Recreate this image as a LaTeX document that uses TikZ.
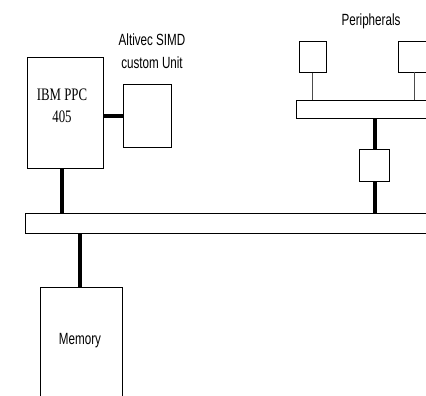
\documentclass[tikz,border=0pt]{standalone}
\usepackage{fontspec}
\setmainfont{Liberation Serif}
\newfontfamily\arialf{Liberation Sans}
\begin{document}
\begin{tikzpicture}[x=1pt,y=-1pt,
  box/.style={draw=black,line width=1.3pt,fill=white,minimum width=#1,inner sep=0pt,anchor=north west},
  thick conn/.style={line width=4pt,line cap=butt},
  thin conn/.style={draw=black!70,line width=0.9pt},
  sanslbl/.style={font=\arialf\fontsize{12}{23}\selectfont,align=center,inner sep=0pt},
  seriflbl/.style={font=\fontsize{13.5}{22}\selectfont,align=center,inner sep=0pt}]
\useasboundingbox (0,0) rectangle (426,396);
\clip (0,0) rectangle (426,396);
% boxes
\node[box=76pt,minimum height=111pt] (ppc) at (27,57) {};
\node[box=48pt,minimum height=63pt] (alt) at (123,84) {};
\node[box=415pt,minimum height=20pt] (bus) at (25,213) {};
\node[box=82pt,minimum height=125pt] (mem) at (40,287) {};
\node[box=150pt,minimum height=18pt] (bus2) at (296,100) {};
\node[box=27pt,minimum height=31pt] (p1) at (299,41) {};
\node[box=40pt,minimum height=31pt] (p2) at (398,41) {};
\node[box=30pt,minimum height=32pt] (br) at (359,149) {};
% labels
\node[seriflbl] (ppclbl) at (62,106) {\scalebox{0.95}[1.3]{IBM PPC}\\\scalebox{0.95}[1.3]{405}};
\node[sanslbl] (altlbl) at (152,51) {\scalebox{0.97}[1.35]{Altivec SIMD}\\\scalebox{0.97}[1.35]{custom Unit}};
\node[sanslbl] (perlbl) at (371,21) {\scalebox{0.97}[1.35]{Peripherals}};
\node[sanslbl] (memlbl) at (80,341) {\scalebox{0.97}[1.35]{Memory}};
% connectors
\coordinate (c1) at ([xshift=-4pt]ppc.south);
\draw[thick conn] (c1) -- (c1 |- bus.north);
\draw[thick conn] (alt.west) -- (alt.west -| ppc.east);
\coordinate (c2) at ([xshift=-2pt]mem.north);
\draw[thick conn] (c2) -- (c2 |- bus.south);
\coordinate (c3) at ([xshift=-1pt]p1.south);
\draw[thin conn] (c3) -- (c3 |- bus2.north);
\coordinate (c4) at (414,72);
\draw[thin conn] (c4) -- (c4 |- bus2.north);
\draw[thick conn] (br.north) -- (br.north |- bus2.south);
\draw[thick conn] (br.south) -- (br.south |- bus.north);
\end{tikzpicture}
\end{document}
